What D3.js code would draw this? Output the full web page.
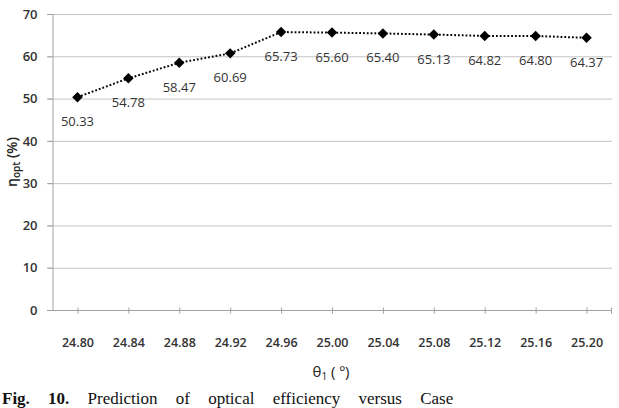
<!DOCTYPE html>
<html>
<head>
<meta charset="utf-8">
<script src="https://d3js.org/d3.v7.min.js"></script>
<style>
  body { margin: 0; background: #fff; }
  svg text { font-family: "Open Sans", sans-serif; }
</style>
</head>
<body>
<div id="chart"></div>
<script>
// chart data
var angles = ["24.80", "24.84", "24.88", "24.92", "24.96", "25.00", "25.04", "25.08", "25.12", "25.16", "25.20"];
var efficiency = [50.33, 54.78, 58.47, 60.69, 65.73, 65.60, 65.40, 65.13, 64.82, 64.80, 64.37];
var yTicks = [0, 10, 20, 30, 40, 50, 60, 70];

function init(){
    var w = 619;
    var h = 408;

    var svg = d3.select("#chart")
        .append("svg")
        .attr("width", w)
        .attr("height", h);

    var x = d3.scalePoint()
        .domain(angles)
        .range([52, 612])
        .padding(0.5);

    var y = d3.scaleLinear()
        .domain([0, 70])
        .range([310, 14]);

    // gridlines
    svg.append("g")
        .selectAll("line")
        .data(yTicks.filter(function(d){ return d > 0; }))
        .enter()
        .append("line")
        .attr("x1", 47)
        .attr("x2", 612)
        .attr("y1", function(d){ return y(d) + 0.5; })
        .attr("y2", function(d){ return y(d) + 0.5; })
        .attr("stroke", "#c4c4c4")
        .attr("stroke-width", 1);

    // y axis
    var yAxis = svg.append("g")
        .attr("transform", "translate(52.5,0)")
        .call(d3.axisLeft(y).tickValues(yTicks).tickSize(5).tickPadding(10));
    yAxis.select(".domain").attr("stroke", "#a0a0a0");
    yAxis.selectAll(".tick line").attr("stroke", "#a0a0a0");
    yAxis.selectAll(".tick text")
        .attr("font-size", "13px")
        .attr("font-weight", 600)
        .attr("fill", "#333");

    // x axis - ticks at category centres
    var xAxis = svg.append("g")
        .attr("transform", "translate(0,310.5)")
        .call(d3.axisBottom(x).tickSize(0).tickPadding(0));
    xAxis.select(".domain").remove();
    xAxis.append("line")
        .attr("x1", 47).attr("x2", 612)
        .attr("stroke", "#a0a0a0");
    xAxis.append("line")
        .attr("x1", 611.5).attr("x2", 611.5)
        .attr("y1", -3).attr("y2", 3)
        .attr("stroke", "#a0a0a0");
    xAxis.selectAll(".tick").append("line")
        .attr("y1", -3).attr("y2", 3)
        .attr("stroke", "#a0a0a0");
    xAxis.selectAll(".tick text")
        .attr("y", 36)
        .attr("dy", 0)
        .attr("font-size", "12.5px")
        .attr("font-weight", 600)
        .attr("fill", "#333");

    // dotted line
    var line = d3.line()
        .x(function(d, i){ return x(angles[i]); })
        .y(function(d){ return y(d); });

    svg.append("path")
        .datum(efficiency)
        .attr("d", line)
        .attr("fill", "none")
        .attr("stroke", "#000")
        .attr("stroke-width", 2)
        .attr("stroke-dasharray", "1.8,2");

    // diamond markers
    svg.append("g")
        .selectAll("path")
        .data(efficiency)
        .enter()
        .append("path")
        .attr("d", d3.symbol().type(d3.symbolDiamond2).size(70))
        .attr("transform", function(d, i){ return "translate(" + x(angles[i]) + "," + y(d) + ")"; })
        .attr("fill", "#000");

    // data labels
    svg.append("g")
        .selectAll("text")
        .data(efficiency)
        .enter()
        .append("text")
        .attr("x", function(d, i){ return x(angles[i]); })
        .attr("y", function(d){ return y(d) + 29; })
        .attr("text-anchor", "middle")
        .attr("font-size", "13px")
        .attr("fill", "#333")
        .text(function(d){ return d.toFixed(2); });

    // x title
    var xt = svg.append("text")
        .attr("x", 331)
        .attr("y", 377)
        .attr("text-anchor", "middle")
        .attr("font-size", "15px")
        .attr("fill", "#222");
    xt.append("tspan").text("θ");
    xt.append("tspan").attr("font-size", "10px").attr("dy", 3).text("1");
    xt.append("tspan").attr("dy", -3).text(" ( º)");

    // y title
    var yt = svg.append("text")
        .attr("transform", "translate(17,162) rotate(-90)")
        .attr("text-anchor", "middle")
        .attr("font-size", "14px")
        .attr("font-weight", 600)
        .attr("fill", "#222");
    yt.append("tspan").text("η");
    yt.append("tspan").attr("font-size", "10px").attr("dy", 3).text("opt");
    yt.append("tspan").attr("dy", -3).text(" (%)");

    // caption
    var cap = svg.append("text")
        .attr("x", 2)
        .attr("y", 404)
        .attr("font-size", "17px")
        .attr("word-spacing", "14px")
        .attr("fill", "#111")
        .style("font-family", "'Liberation Serif', serif");
    cap.append("tspan").attr("font-weight", "bold").text("Fig. 10. ");
    cap.append("tspan").text("Prediction of optical efficiency versus Case");
}
window.onload = init;
</script>
</body>
</html>
